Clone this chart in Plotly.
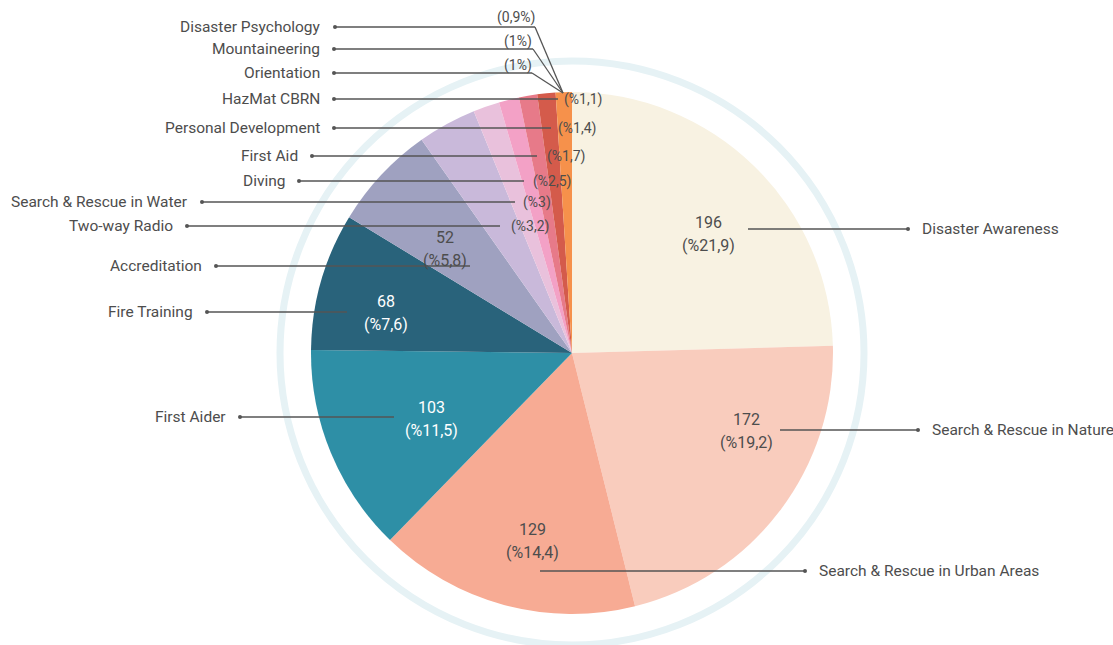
import plotly.graph_objects as go

# ---------------- data ----------------
categories = [
    "Disaster Awareness", "Search & Rescue in Nature", "Search & Rescue in Urban Areas",
    "First Aider", "Fire Training", "Accreditation", "Two-way Radio",
    "Search & Rescue in Water", "Diving", "First Aid", "Personal Development",
    "HazMat CBRN", "Orientation", "Mountaineering", "Disaster Psychology",
]
# slice sizes as drawn (small ones;
# three categories have a percentage label but no visible slice)
counts = [196, 172, 129, 103, 68, 52, 29, 0, 0, 0, 13, 10, 9, 9, 8]
pct_labels = [
    "(%21,9)", "(%19,2)", "(%14,4)", "(%11,5)", "(%7,6)", "(%5,8)", "(%3,2)",
    "(%3)", "(%2,5)", "(%1,7)", "(%1,4)", "(%1,1)", "(1%)", "(1%)", "(0,9%)",
]
slice_colors = [
    "#f8f2e2", "#f9ccbd", "#f7ab94", "#2e8fa6", "#29637b", "#9fa1c0", "#c9b9da",
    "#c9b9da", "#e9c1dc", "#e9c1dc", "#e9c1dc", "#f3a1c6", "#e77a89", "#d45b4b", "#f6914b",
]

# ---------------- layout / style constants (pixels) ----------------
W, H = 1113, 645
CX, CY, R = 572, 353, 261
RING_R = 292
FONT = "Roboto, 'Open Sans', sans-serif"
TXT = "#4d4d4d"
LINE = "#555555"

# label layout: leader line (inner x, y, dot x), label placement
big_layout = {
    "Disaster Awareness":             dict(line=(748, 229, 908), inner=(708, 234), color=TXT),
    "Search & Rescue in Nature":      dict(line=(780, 430, 918), inner=(746, 431), color=TXT),
    "Search & Rescue in Urban Areas": dict(line=(540, 571, 805), inner=(532, 541), color=TXT),
    "First Aider":                    dict(line=(394, 417, 240), inner=(431, 419), color="#ffffff"),
    "Fire Training":                  dict(line=(347, 312, 207), inner=(386, 313), color="#ffffff"),
    "Accreditation":                  dict(line=(470, 266, 216), inner=(445, 249), color=TXT),
}
small_layout = {
    "Two-way Radio":            dict(line=(500, 226, 187), pct_x=509),
    "Search & Rescue in Water": dict(line=(515, 202, 202), pct_x=521),
    "Diving":                   dict(line=(524, 181, 299), pct_x=531),
    "First Aid":                dict(line=(537, 156, 312), pct_x=545),
    "Personal Development":     dict(line=(551, 128, 334), pct_x=556),
    "HazMat CBRN":              dict(line=(558, 99, 334), pct_x=562),
}
elbow_target = (563, 93)
elbow_layout = {
    "Orientation":         dict(line=(532, 73, 334), pct=(534, 65)),
    "Mountaineering":      dict(line=(533, 49, 334), pct=(534, 41)),
    "Disaster Psychology": dict(line=(535, 27, 335), pct=(537, 17)),
}

fig = go.Figure()

fig.add_trace(go.Pie(
    labels=categories, values=counts, sort=False, direction="clockwise", rotation=0,
    marker=dict(colors=slice_colors, line=dict(width=0)),
    textinfo="none", hoverinfo="label+value", showlegend=False,
    domain=dict(x=[(CX - R) / W, (CX + R) / W], y=[1 - (CY + R) / H, 1 - (CY - R) / H]),
))

shapes = []
annotations = []

# decorative outer ring
shapes.append(dict(type="circle", xref="x", yref="y", layer="below",
                   x0=CX - RING_R, x1=CX + RING_R, y0=CY - RING_R, y1=CY + RING_R,
                   line=dict(color="#e6f2f5", width=7)))


def add_line(x0, y0, x1, y1):
    shapes.append(dict(type="line", xref="x", yref="y", x0=x0, y0=y0, x1=x1, y1=y1,
                       line=dict(color=LINE, width=1.3)))


def add_dot(x, y):
    shapes.append(dict(type="circle", xref="x", yref="y", x0=x - 2, x1=x + 2, y0=y - 2, y1=y + 2,
                       fillcolor=LINE, line=dict(width=0)))


def add_text(x, y, text, size, color=TXT, xanchor="center"):
    annotations.append(dict(x=x, y=y, xref="x", yref="y", text=text, showarrow=False,
                            xanchor=xanchor, yanchor="middle",
                            font=dict(family=FONT, size=size, color=color)))


for cat, cnt, pct in zip(categories, counts, pct_labels):
    if cat in big_layout:
        L = big_layout[cat]
        xi, y, xd = L["line"]
        add_line(xi, y, xd, y)
        add_dot(xd, y)
        if xd > CX:
            add_text(xd + 12, y, cat, 15.5, xanchor="left")
        else:
            add_text(xd - 12, y, cat, 15.5, xanchor="right")
        ix, iy = L["inner"]
        add_text(ix, iy - 11.5, str(cnt), 16, color=L["color"])
        add_text(ix, iy + 11.5, pct, 16, color=L["color"])
    elif cat in small_layout:
        L = small_layout[cat]
        xi, y, xd = L["line"]
        add_line(xi, y, xd, y)
        add_dot(xd, y)
        add_text(xd - 12, y, cat, 15.5, xanchor="right")
        add_text(L["pct_x"], y, pct, 14, xanchor="left")
    elif cat in elbow_layout:
        L = elbow_layout[cat]
        xi, y, xd = L["line"]
        add_line(xd, y, xi, y)
        add_line(xi, y, elbow_target[0], elbow_target[1])
        add_dot(xd, y)
        add_text(xd - 12, y, cat, 15.5, xanchor="right")
        px, py = L["pct"]
        add_text(px, py, pct, 14, xanchor="right")

fig.update_layout(
    width=W, height=H, autosize=False,
    margin=dict(l=0, r=0, t=0, b=0),
    paper_bgcolor="white", plot_bgcolor="rgba(0,0,0,0)",
    xaxis=dict(range=[0, W], visible=False, fixedrange=True, domain=[0, 1]),
    yaxis=dict(range=[H, 0], visible=False, fixedrange=True, domain=[0, 1]),
    shapes=shapes, annotations=annotations,
)

fig.write_html("out.html", config={"displayModeBar": False},
               post_script="document.body.style.margin='0';document.body.style.overflow='hidden';")
